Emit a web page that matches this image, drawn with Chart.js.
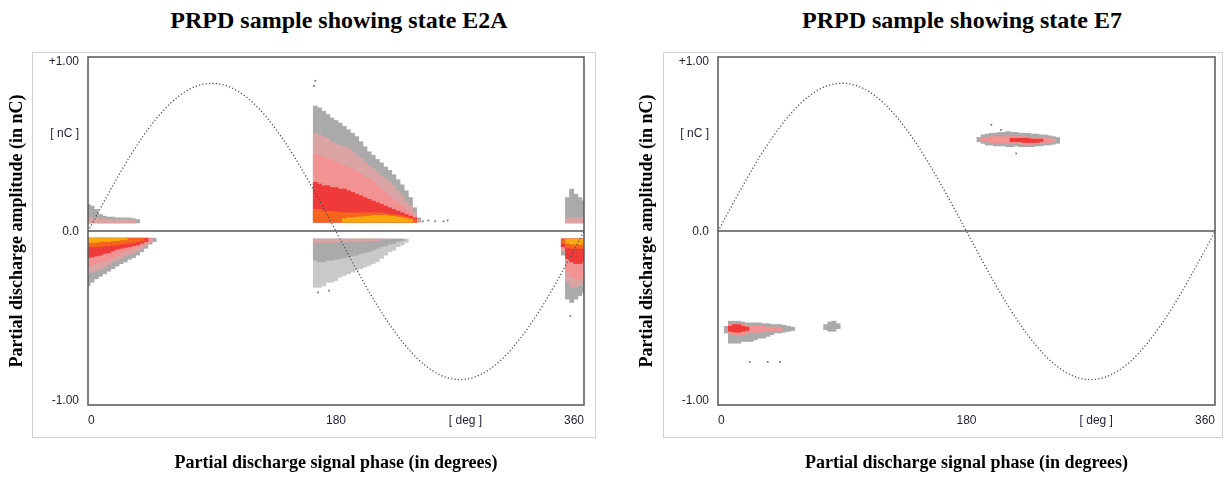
<!DOCTYPE html>
<html><head><meta charset="utf-8">
<script src="https://cdn.jsdelivr.net/npm/chart.js@4.4.1/dist/chart.umd.min.js"></script>
<style>
html,body{margin:0;padding:0;background:#fff;width:1224px;height:477px;overflow:hidden;}
.frame{position:absolute;border:1px solid #d2d2d2;box-sizing:border-box;}
.title{position:absolute;top:8px;font:bold 24px "Liberation Serif","Times New Roman",serif;line-height:24px;white-space:nowrap;transform:translateX(-50%);color:#000;}
.wrap{position:absolute;top:0;height:477px;}
</style></head><body>
<div class="frame" style="left:32px;top:52px;width:564px;height:386px"></div>
<div class="frame" style="left:663px;top:52px;width:560px;height:386px"></div>
<div class="title" style="left:339px">PRPD sample showing state E2A</div>
<div class="title" style="left:962px">PRPD sample showing state E7</div>
<div class="wrap" style="left:0;width:612px"><canvas id="c1"></canvas></div>
<div class="wrap" style="left:630px;width:594px"><canvas id="c2"></canvas></div>
<script>
// ---------- axis ticks ----------
const xTickValues = [0, 180, 274, 360];
const xTickLabels = ['0', '180', '[ deg ]', '360'];
const yTickValues = [1, 0.58, 0, -1];
const yTickLabels = ['+1.00', '[ nC ]', '0.0', '-1.00'];

// ---------- reference voltage (read every 10 deg) ----------
const sinePhase = [0,10,20,30,40,50,60,70,80,90,100,110,120,130,140,150,160,170,180,190,200,210,220,230,240,250,260,270,280,290,300,310,320,330,340,350,360];
const sineAmplitude = [0,0.152,0.299,0.438,0.562,0.670,0.758,0.822,0.862,0.875,0.862,0.822,0.758,0.670,0.562,0.438,0.299,0.152,0,-0.152,-0.299,-0.438,-0.562,-0.670,-0.758,-0.822,-0.862,-0.875,-0.862,-0.822,-0.758,-0.670,-0.562,-0.438,-0.299,-0.152,0];

// ---------- E2A : positive cluster 164-241 deg (band tops, base 0.055) ----------
const e2aMainPhase  = [165,168,171,174,177,180,183,186,189,192,195,198,201,204,207,210,213,216,219,222,225,228,231,234,237,240];
const e2aMainGray   = [0.74,0.73,0.71,0.69,0.67,0.655,0.64,0.62,0.60,0.58,0.56,0.53,0.50,0.47,0.45,0.425,0.405,0.38,0.36,0.335,0.305,0.275,0.24,0.20,0.14,0.08];
const e2aMainLPink  = [0.58,0.57,0.56,0.55,0.53,0.52,0.51,0.50,0.49,0.47,0.45,0.43,0.41,0.39,0.37,0.35,0.33,0.31,0.29,0.27,0.24,0.21,0.18,0.15,0.11,0.07];
const e2aMainPink   = [0.46,0.45,0.44,0.43,0.42,0.41,0.40,0.39,0.38,0.37,0.35,0.34,0.32,0.31,0.29,0.27,0.25,0.23,0.21,0.19,0.17,0.15,0.13,0.11,0.09,null];
const e2aMainRed    = [0.29,0.28,0.27,0.27,0.26,0.26,0.25,0.25,0.24,0.23,0.22,0.21,0.20,0.19,0.18,0.17,0.16,0.15,0.14,0.13,0.12,0.11,0.10,0.09,0.08,null];
const e2aMainOrange = [0.13,0.13,0.12,0.12,0.12,0.115,0.115,0.11,0.11,0.11,0.11,0.11,0.11,0.11,0.11,0.11,0.11,0.105,0.10,0.10,0.095,0.09,0.085,0.08,0.07,null];
const e2aMainYellow = [null,null,null,null,null,null,null,0.075,0.08,0.08,0.085,0.085,0.09,0.09,0.095,0.095,0.095,0.095,0.09,0.09,0.085,0.08,0.075,0.07,null,null];

// ---------- E2A : positive cluster 0-36 deg (base 0.05) ----------
const e2aPosLowPhase = [0,3,6,9,12,15,18,21,24,27,30,33,36];
const e2aPosLowGray  = [0.16,0.15,0.13,0.10,0.09,0.085,0.085,0.08,0.08,0.08,0.08,0.075,0.07];
const e2aPosLowLPink = [0.08,0.08,0.08,0.075,0.075,0.07,0.07,0.07,0.07,0.07,0.065,0.065,null];

// ---------- E2A : negative cluster 0-48 deg (base -0.04) ----------
const e2aNegLowPhase  = [0,3,6,9,12,15,18,21,24,27,30,33,36,39,42,45,48];
const e2aNegLowGray   = [-0.32,-0.30,-0.28,-0.265,-0.25,-0.235,-0.22,-0.205,-0.19,-0.18,-0.165,-0.155,-0.14,-0.12,-0.10,-0.075,-0.06];
const e2aNegLowLPink  = [-0.25,-0.24,-0.23,-0.22,-0.21,-0.195,-0.18,-0.17,-0.16,-0.145,-0.135,-0.125,-0.115,-0.10,-0.085,-0.065,null];
const e2aNegLowPink   = [-0.21,-0.20,-0.19,-0.18,-0.175,-0.165,-0.155,-0.14,-0.13,-0.12,-0.11,-0.105,-0.095,-0.085,-0.075,-0.06,null];
const e2aNegLowRed    = [-0.155,-0.15,-0.145,-0.14,-0.13,-0.125,-0.115,-0.105,-0.10,-0.095,-0.09,-0.085,-0.08,-0.07,-0.06,null,null];
const e2aNegLowOrange = [-0.09,-0.09,-0.09,-0.09,-0.085,-0.085,-0.08,-0.08,-0.075,-0.07,-0.07,-0.065,-0.06,-0.055,null,null,null];
const e2aNegLowYellow = [-0.065,-0.065,-0.065,-0.06,-0.06,-0.06,-0.055,-0.055,-0.05,-0.05,null,null,null,null,null,null,null];

// ---------- E2A : negative cluster 165-231 deg (base -0.045) ----------
const e2aNegMidPhase  = [165,168,171,174,177,180,183,186,189,192,195,198,201,204,207,210,213,216,219,222,225,228,231];
const e2aNegMidSparse = [-0.33,-0.33,-0.32,-0.30,-0.30,-0.29,-0.27,-0.26,-0.25,-0.24,-0.23,-0.22,-0.21,-0.20,-0.19,-0.18,-0.16,-0.14,-0.12,-0.11,-0.09,-0.08,-0.065];
const e2aNegMidGray   = [-0.17,-0.18,-0.18,-0.17,-0.17,-0.165,-0.16,-0.155,-0.15,-0.145,-0.14,-0.13,-0.125,-0.12,-0.11,-0.10,-0.09,-0.085,-0.075,-0.07,-0.06,-0.055,null];
const e2aNegMidLPink  = [-0.065,-0.065,-0.065,-0.065,-0.065,-0.065,-0.06,-0.06,-0.06,-0.06,-0.06,-0.06,-0.055,-0.055,-0.055,-0.055,-0.05,-0.05,null,null,null,null,null];

// ---------- E2A : negative cluster 345-360 deg (base -0.045) ----------
const e2aNegHighPhase  = [345,348,351,354,357,360];
const e2aNegHighGray   = [-0.14,-0.40,-0.42,-0.40,-0.38,-0.36];
const e2aNegHighLPink  = [-0.12,-0.30,-0.33,-0.33,-0.32,-0.30];
const e2aNegHighPink   = [-0.10,-0.24,-0.27,-0.28,-0.28,-0.26];
const e2aNegHighRed    = [-0.09,-0.16,-0.18,-0.19,-0.19,-0.18];
const e2aNegHighOrange = [-0.07,-0.095,-0.10,-0.10,-0.10,-0.10];
const e2aNegHighYellow = [null,-0.07,-0.075,-0.075,-0.075,-0.075];

// ---------- E2A : positive cluster 348-360 deg (base 0.05) ----------
const e2aPosHighPhase = [348,351,354,357,360];
const e2aPosHighGray  = [0.20,0.25,0.22,0.20,0.18];
const e2aPosHighLPink = [0.075,0.08,0.08,0.08,0.08];

// ---------- E2A : isolated pulses ----------
const e2aDotPhase = [165,164,243,247,252,258,261,167,175,350];
const e2aDotAmp   = [0.89,0.86,0.06,0.065,0.06,0.06,0.065,-0.36,-0.35,-0.50];

// ---------- E7 : positive cluster 189-246 deg (low / high edges) ----------
const e7PosPhase  = [189,192,195,198,201,204,207,210,213,216,219,222,225,228,231,234,237,240,243,246];
const e7PosGrayLo = [0.53,0.52,0.51,0.51,0.505,0.505,0.505,0.50,0.50,0.505,0.50,0.50,0.50,0.50,0.505,0.505,0.51,0.51,0.515,0.52];
const e7PosGrayHi = [0.555,0.57,0.575,0.58,0.58,0.585,0.585,0.59,0.585,0.585,0.58,0.58,0.58,0.575,0.575,0.57,0.57,0.565,0.56,0.555];
const e7PosPinkLo = [null,0.535,0.53,0.525,0.525,0.525,0.525,0.52,0.52,0.52,0.52,0.515,0.515,0.515,0.52,0.52,0.525,0.525,0.53,null];
const e7PosPinkHi = [null,0.55,0.555,0.56,0.56,0.56,0.56,0.56,0.56,0.56,0.56,0.56,0.555,0.555,0.555,0.555,0.55,0.55,0.545,null];
const e7PosRedLo  = [null,null,null,null,null,null,null,null,0.53,0.53,0.53,0.525,0.525,0.525,0.525,0.53,null,null,null,null];
const e7PosRedHi  = [null,null,null,null,null,null,null,null,0.55,0.55,0.55,0.55,0.55,0.545,0.545,0.545,null,null,null,null];

// ---------- E7 : negative cluster 6-54 deg ----------
const e7NegPhase  = [6,9,12,15,18,21,24,27,30,33,36,39,42,45,48,51,54];
const e7NegGrayLo = [-0.60,-0.66,-0.66,-0.66,-0.65,-0.65,-0.65,-0.64,-0.63,-0.63,-0.62,-0.61,-0.60,-0.60,-0.595,-0.59,-0.585];
const e7NegGrayHi = [-0.56,-0.53,-0.53,-0.53,-0.535,-0.54,-0.54,-0.54,-0.54,-0.545,-0.545,-0.55,-0.55,-0.55,-0.555,-0.56,-0.565];
const e7NegPinkLo = [null,-0.60,-0.61,-0.61,-0.61,-0.60,-0.595,-0.595,-0.595,-0.59,-0.59,-0.59,-0.585,-0.585,null,null,null];
const e7NegPinkHi = [null,-0.55,-0.545,-0.545,-0.55,-0.555,-0.555,-0.56,-0.56,-0.56,-0.565,-0.565,-0.565,-0.57,null,null,null];
const e7NegRedLo  = [null,-0.59,-0.595,-0.595,-0.59,-0.585,null,null,null,null,null,null,null,null,null,null,null];
const e7NegRedHi  = [null,-0.56,-0.55,-0.55,-0.56,-0.565,null,null,null,null,null,null,null,null,null,null,null];

// ---------- E7 : small negative cluster 78-87 deg ----------
const e7SmallPhase  = [78,81,84,87];
const e7SmallGrayLo = [-0.58,-0.59,-0.59,-0.575];
const e7SmallGrayHi = [-0.55,-0.535,-0.53,-0.545];

// ---------- E7 : isolated pulses ----------
const e7DotPhase = [23,36,45,198,216,205];
const e7DotAmp   = [-0.77,-0.77,-0.77,0.63,0.46,0.60];

// ---------- styles ----------
const COL = {sparse:'#c9c9c9', gray:'#aaaaaa', lpink:'#dba4a4', pink:'#f39292', red:'#f03a3a', orange:'#f5651e', yellow:'#f9a90e', dot:'#707070', sine:'#4e4e4e'};
const ORDER = {sparse:9, gray:8, lpink:7, pink:6, red:5, orange:4, yellow:3};
const TICK_COLOR = '#1e1e34';

function fromBase(phases, base, tops) {
  const out = [];
  phases.forEach((p, i) => { if (tops[i] != null) out.push({x: p, y: [base, tops[i]]}); });
  return out;
}
function fromEdges(phases, lo, hi) {
  const out = [];
  phases.forEach((p, i) => { if (lo[i] != null && hi[i] != null) out.push({x: p, y: [lo[i], hi[i]]}); });
  return out;
}
function band(kind, data) {
  return {type: 'bar', data: data, backgroundColor: COL[kind], borderWidth: 0, order: ORDER[kind]};
}
function sineDataset() {
  return {type: 'line', data: sinePhase.map((p, i) => ({x: p, y: sineAmplitude[i]})),
    borderColor: COL.sine, borderWidth: 1.3, borderDash: [1.2, 2.2], pointRadius: 0,
    cubicInterpolationMode: 'monotone', fill: false, order: 1};
}
function dotDataset(ph, am) {
  return {type: 'scatter', data: ph.map((p, i) => ({x: p, y: am[i]})),
    pointStyle: 'rect', pointRadius: 1.2, backgroundColor: COL.dot, borderWidth: 0, order: 2};
}

const frame = {id: 'frame', afterDatasetsDraw(chart) {
  const {ctx, chartArea: a} = chart;
  ctx.save(); ctx.strokeStyle = '#555555'; ctx.lineWidth = 1.5;
  ctx.strokeRect(a.left, a.top, a.right - a.left, a.bottom - a.top); ctx.restore();
}};

function options(padRight) {
  return {
    responsive: true, maintainAspectRatio: false, animation: false, events: [],
    layout: {padding: {top: 57, right: padRight, left: 0, bottom: 0}},
    plugins: {legend: {display: false}, tooltip: {enabled: false}, title: {display: false}},
    datasets: {bar: {grouped: false, barPercentage: 1, categoryPercentage: 1}},
    scales: {
      x: {type: 'linear', min: 0, max: 360, offset: false,
        grid: {display: false, offset: false, drawTicks: false}, border: {display: false},
        afterBuildTicks: s => { s.ticks = xTickValues.map(v => ({value: v})); },
        afterFit: s => { s.height = 72; },
        ticks: {autoSkip: false, maxRotation: 0, align: 'inner', padding: 8, color: TICK_COLOR,
          font: {family: 'Liberation Sans', size: 12}, callback: (v, i) => xTickLabels[i]},
        title: {display: true, text: 'Partial discharge signal phase (in degrees)', color: '#000',
          font: {family: 'Liberation Serif', size: 18, weight: 'bold'}, padding: {top: 0, bottom: 3}}
      },
      y: {type: 'linear', min: -1.025, max: 1.03,
        grid: {drawTicks: false, lineWidth: 2,
          color: c => (c.tick && c.tick.value === 0) ? '#808080' : 'rgba(0,0,0,0)'},
        border: {display: false},
        afterBuildTicks: s => { s.ticks = yTickValues.map(v => ({value: v})); },
        afterFit: s => { s.width = 88; },
        ticks: {autoSkip: false, padding: 9, color: TICK_COLOR,
          font: {family: 'Liberation Sans', size: 12}, callback: (v, i) => yTickLabels[i]},
        title: {display: true, text: 'Partial discharge amplitude (in nC)', color: '#000',
          font: {family: 'Liberation Serif', size: 18, weight: 'bold'}, padding: {top: 7, bottom: 0}}
      }
    }
  };
}

const ds1 = [
  sineDataset(),
  dotDataset(e2aDotPhase, e2aDotAmp),
  band('gray', fromBase(e2aMainPhase, 0.055, e2aMainGray)),
  band('lpink', fromBase(e2aMainPhase, 0.055, e2aMainLPink)),
  band('pink', fromBase(e2aMainPhase, 0.055, e2aMainPink)),
  band('red', fromBase(e2aMainPhase, 0.055, e2aMainRed)),
  band('orange', fromBase(e2aMainPhase, 0.055, e2aMainOrange)),
  band('yellow', fromBase(e2aMainPhase, 0.055, e2aMainYellow)),
  band('gray', fromBase(e2aPosLowPhase, 0.05, e2aPosLowGray)),
  band('lpink', fromBase(e2aPosLowPhase, 0.05, e2aPosLowLPink)),
  band('gray', fromBase(e2aNegLowPhase, -0.04, e2aNegLowGray)),
  band('lpink', fromBase(e2aNegLowPhase, -0.04, e2aNegLowLPink)),
  band('pink', fromBase(e2aNegLowPhase, -0.04, e2aNegLowPink)),
  band('red', fromBase(e2aNegLowPhase, -0.04, e2aNegLowRed)),
  band('orange', fromBase(e2aNegLowPhase, -0.04, e2aNegLowOrange)),
  band('yellow', fromBase(e2aNegLowPhase, -0.04, e2aNegLowYellow)),
  band('sparse', fromBase(e2aNegMidPhase, -0.045, e2aNegMidSparse)),
  band('gray', fromBase(e2aNegMidPhase, -0.045, e2aNegMidGray)),
  band('lpink', fromBase(e2aNegMidPhase, -0.045, e2aNegMidLPink)),
  band('gray', fromBase(e2aNegHighPhase, -0.045, e2aNegHighGray)),
  band('lpink', fromBase(e2aNegHighPhase, -0.045, e2aNegHighLPink)),
  band('pink', fromBase(e2aNegHighPhase, -0.045, e2aNegHighPink)),
  band('red', fromBase(e2aNegHighPhase, -0.045, e2aNegHighRed)),
  band('orange', fromBase(e2aNegHighPhase, -0.045, e2aNegHighOrange)),
  band('yellow', fromBase(e2aNegHighPhase, -0.045, e2aNegHighYellow)),
  band('gray', fromBase(e2aPosHighPhase, 0.05, e2aPosHighGray)),
  band('lpink', fromBase(e2aPosHighPhase, 0.05, e2aPosHighLPink))
];

const ds2 = [
  sineDataset(),
  dotDataset(e7DotPhase, e7DotAmp),
  band('gray', fromEdges(e7PosPhase, e7PosGrayLo, e7PosGrayHi)),
  band('pink', fromEdges(e7PosPhase, e7PosPinkLo, e7PosPinkHi)),
  band('red', fromEdges(e7PosPhase, e7PosRedLo, e7PosRedHi)),
  band('gray', fromEdges(e7NegPhase, e7NegGrayLo, e7NegGrayHi)),
  band('pink', fromEdges(e7NegPhase, e7NegPinkLo, e7NegPinkHi)),
  band('red', fromEdges(e7NegPhase, e7NegRedLo, e7NegRedHi)),
  band('gray', fromEdges(e7SmallPhase, e7SmallGrayLo, e7SmallGrayHi))
];

new Chart(document.getElementById('c1'), {type: 'bar', data: {datasets: ds1}, options: options(28), plugins: [frame]});
new Chart(document.getElementById('c2'), {type: 'bar', data: {datasets: ds2}, options: options(9), plugins: [frame]});
</script>
</body></html>
